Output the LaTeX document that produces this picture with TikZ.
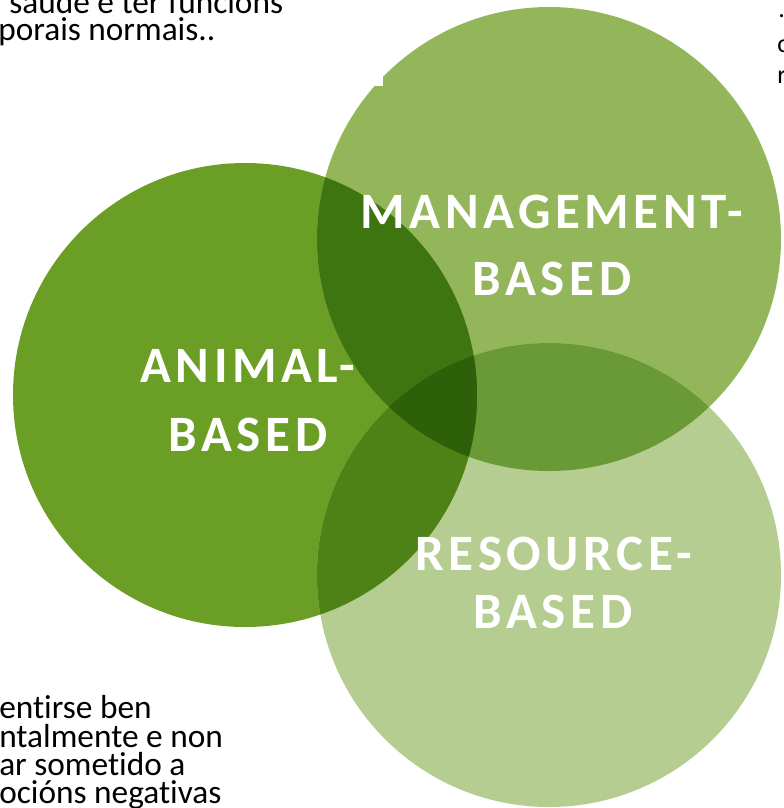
\documentclass[tikz,border=0pt]{standalone}
\usepackage{fontspec}
\setmainfont{Carlito}[Ligatures=NoCommon]
\definecolor{animalgreen}{HTML}{6B9E24}
\definecolor{managegreen}{HTML}{93B65B}
\definecolor{resourcegreen}{HTML}{B5CD91}
\definecolor{amgreen}{HTML}{3E7510}
\definecolor{argreen}{HTML}{4E8116}
\definecolor{mrgreen}{HTML}{699A36}
\definecolor{amrgreen}{HTML}{2E5F09}
\begin{document}
\begin{tikzpicture}[x=0.75pt,y=-0.75pt,
    lbl/.style={text=white,inner sep=0pt,anchor=base,
        font=\fontsize{38.25}{40}\selectfont\bfseries\addfontfeatures{LetterSpace=9}},
    body/.style={text=black,inner sep=0pt,anchor=base west,
        font=\fontsize{25}{28}\selectfont},
    edge/.style={text=black,inner sep=0pt,anchor=base west,
        font=\fontsize{19.5}{24}\selectfont}]
    \useasboundingbox (0,0) rectangle (783,808);
    \coordinate (animal) at (245,395);
    \coordinate (manage) at (549,239);
    \coordinate (resource) at (549,575);
    % base circles
    \fill[animalgreen] (animal) circle[radius=174pt];
    \fill[managegreen] (manage) circle[radius=174pt];
    \fill[resourcegreen] (resource) circle[radius=174pt];
    % overlaps
    \begin{scope}
        \clip (manage) circle[radius=174pt];
        \fill[mrgreen] (resource) circle[radius=174pt];
    \end{scope}
    \begin{scope}
        \clip (animal) circle[radius=174pt];
        \fill[amgreen] (manage) circle[radius=174pt];
        \fill[argreen] (resource) circle[radius=174pt];
        \clip (manage) circle[radius=174pt];
        \fill[amrgreen] (resource) circle[radius=174pt];
    \end{scope}
    % text box corner
    \fill[white] (0,0) rectangle (383,86);
    \draw
        (552,228) node[lbl] (man1) {MANAGEMENT-}
        (552,295) node[lbl] (man2) {BASED}
        (248,382) node[lbl] (ani1) {ANIMAL-}
        (248,451) node[lbl] (ani2) {BASED}
        (554,570) node[lbl] (res1) {RESOURCE-}
        (553,628) node[lbl] (res2) {BASED};
    \draw
        (9,13) node[body] (tl1) {saúde e ter funcións}
        (-2,40) node[body] (tl2) {porais normais..}
        (-1,718) node[body] (bl1) {entirse ben}
        (-1,747) node[body] (bl2) {ntalmente e non}
        (-1,775) node[body] (bl3) {ar sometido a}
        (-1,803) node[body] (bl4) {ocións negativas}
        (778,17) node[edge] (tr1) {.}
        (777,52) node[edge] (tr2) {c}
        (777,83) node[edge] (tr3) {r};
\end{tikzpicture}
\end{document}
